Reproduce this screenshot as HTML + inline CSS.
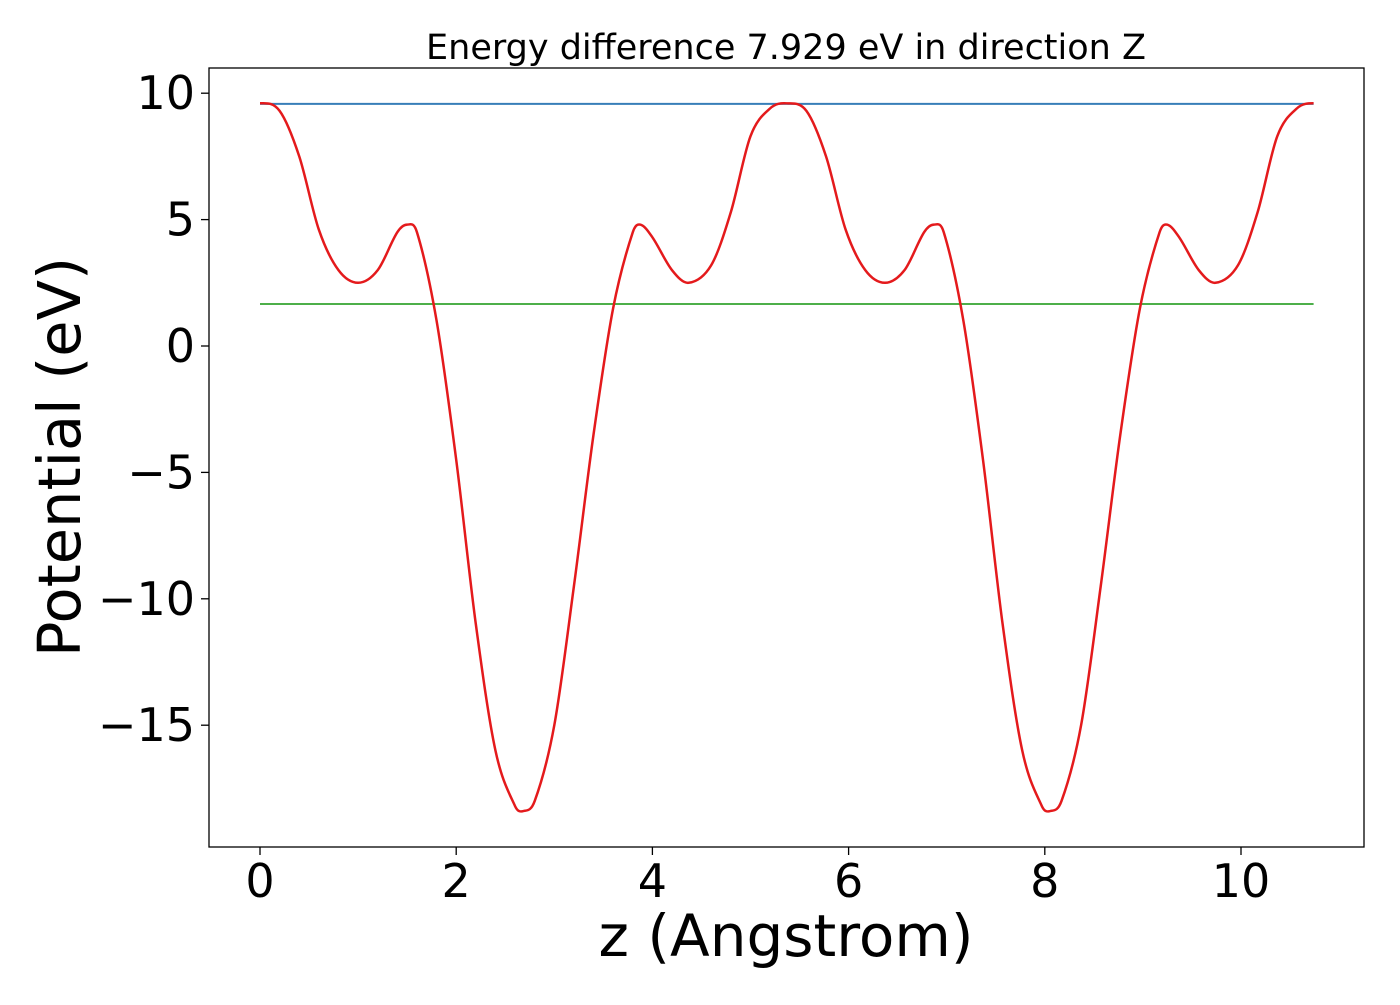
<!DOCTYPE html>
<html><head><meta charset="utf-8"><style>
body{margin:0;background:#fff}
svg text{font-family:"DejaVu Sans","Liberation Sans",sans-serif}
</style></head><body>
<svg id="chart" width="1400" height="1000">
<rect x="0" y="0" width="1400" height="1000" fill="#fff"/>
<text x="786" y="59" font-size="35" text-anchor="middle">Energy difference 7.929 eV in direction Z</text>
<g id="plot"></g>
<rect x="209" y="68" width="1155" height="779" fill="none" stroke="#000" stroke-width="1.3"/>
<text x="786" y="956" font-size="58" text-anchor="middle">z (Angstrom)</text>
<text transform="translate(80,457) rotate(-90)" font-size="59" text-anchor="middle">Potential (eV)</text>
</svg>
<script>
const zVals=[0,0.2,0.4,0.6,0.8,1.0,1.2,1.4,1.5,1.6,1.8,2.0,2.2,2.4,2.6,2.68,2.8,3.0,3.2,3.4,3.6,3.8,3.88,4.0,4.2,4.37,4.6,4.8,5.0,5.2,5.37,
5.57,5.77,5.97,6.17,6.37,6.57,6.77,6.87,6.97,7.17,7.37,7.57,7.77,7.97,8.05,8.17,8.37,8.57,8.77,8.97,9.17,9.25,9.37,9.57,9.74,9.97,10.17,10.37,10.57,10.74];
const potVals=[9.6,9.3,7.5,4.6,3.0,2.5,3.0,4.5,4.8,4.5,1.0,-4.5,-11,-16,-18.2,-18.4,-18,-15,-9.5,-3.5,1.5,4.5,4.8,4.3,3.0,2.5,3.2,5.3,8.3,9.4,9.6,
9.3,7.5,4.6,3.0,2.5,3.0,4.5,4.8,4.5,1.0,-4.5,-11,-16,-18.2,-18.4,-18,-15,-9.5,-3.5,1.5,4.5,4.8,4.3,3.0,2.5,3.2,5.3,8.3,9.4,9.6];
const vbmLevel=9.58;
const cbmLevel=1.66;
const xTicks=[0,2,4,6,8,10];
const yTicks=[10,5,0,-5,-10,-15];
const xLabels=["0","2","4","6","8","10"];
const yLabels=["10","5","0","\u22125","\u221210","\u221215"];
const X=z=>260+z*98.1;
const Y=v=>346-v*25.28;
const NS="http://www.w3.org/2000/svg";
const g=document.getElementById('plot');
function mk(t,a){const e=document.createElementNS(NS,t);for(const k in a)e.setAttribute(k,a[k]);g.appendChild(e);return e;}
xTicks.forEach((t,i)=>{
 const l=mk('line',{x1:X(t),x2:X(t),y1:847,y2:855,stroke:'#000','stroke-width':1.3});
 
 
 const tx=mk('text',{x:X(t),y:897,'font-size':46,'text-anchor':'middle'});tx.textContent=xLabels[i];
 
 
});
yTicks.forEach((t,i)=>{
 const l=mk('line',{x1:201,x2:209,y1:Y(t),y2:Y(t),stroke:'#000','stroke-width':1.3});
 
 
 const tx=mk('text',{x:195,y:Y(t)+16,'font-size':46,'text-anchor':'end'});tx.textContent=yLabels[i];
 
 
});
const zMax=zVals[zVals.length-1];
const b=mk('line',{x1:X(0),x2:X(zMax),y1:Y(vbmLevel),y2:Y(vbmLevel),stroke:'#377eb8','stroke-width':2});


const gr=mk('line',{x1:X(0),x2:X(zMax),y1:Y(cbmLevel),y2:Y(cbmLevel),stroke:'#4daf4a','stroke-width':2});


// non-uniform Catmull-Rom style smooth curve
const n=zVals.length,m=[];
for(let i=0;i<n;i++){
 const a=Math.max(0,i-1),c2=Math.min(n-1,i+1);
 m[i]=(potVals[c2]-potVals[a])/(zVals[c2]-zVals[a]);
}
m[0]=0;m[n-1]=0;
let p='M'+X(zVals[0])+','+Y(potVals[0]);
for(let i=0;i<n-1;i++){const h=zVals[i+1]-zVals[i];
 p+=' C'+X(zVals[i]+h/3)+','+Y(potVals[i]+m[i]*h/3)+' '+X(zVals[i+1]-h/3)+','+Y(potVals[i+1]-m[i+1]*h/3)+' '+X(zVals[i+1])+','+Y(potVals[i+1]);}
const c=mk('path',{d:p,fill:'none',stroke:'#e41a1c','stroke-width':2.5});


</script>
</body></html>
